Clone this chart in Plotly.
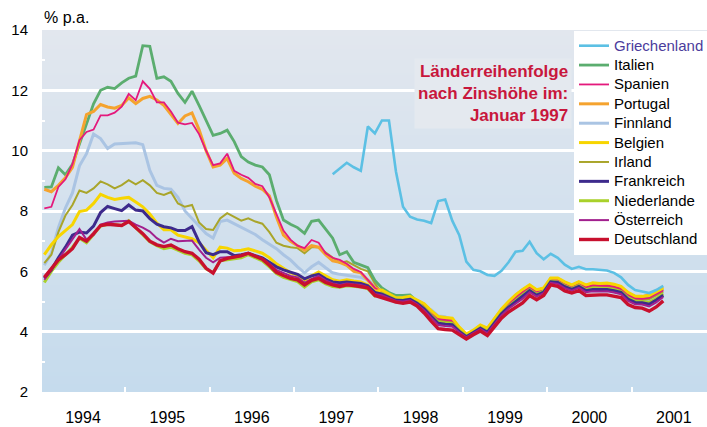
import base64, struct, zlib
import plotly.graph_objects as go

# ---- data: monthly yields (% p.a.), Jan 1994 .. May 2001 ----
START_YEAR = 1994
N_MONTHS = 89
years = ["1994", "1995", "1996", "1997", "1998", "1999", "2000", "2001"]

griechenland = [9.22, 9.40, 9.60, 9.45, 9.33, 10.80, 10.57, 11.00, 11.00, 9.30, 8.14, 7.81, 7.72, 7.68, 7.60,
                8.33, 8.38, 7.68, 7.20, 6.32, 6.05, 6.00, 5.88, 5.85, 6.02, 6.30, 6.65, 6.68, 6.98, 6.60,
                6.40, 6.58, 6.45, 6.22, 6.08, 6.15, 6.07, 6.07, 6.06, 6.03, 5.95, 5.80, 5.55, 5.38, 5.33,
                5.28, 5.38, 5.52]
griechenland_start = 41  # June 1997

italien = [8.78, 8.80, 9.43, 9.20, 9.55, 10.20, 10.90, 11.55, 12.00, 12.10, 12.06, 12.25, 12.40, 12.47, 13.48,
           13.46, 12.40, 12.45, 12.30, 11.90, 11.60, 11.97, 11.50, 11.00, 10.51, 10.57, 10.68, 10.30, 9.80, 9.62,
           9.52, 9.46, 9.20, 8.35, 7.70, 7.56, 7.45, 7.26, 7.66, 7.70, 7.40, 7.10, 6.55, 6.65, 6.30, 6.20, 6.12,
           5.70, 5.45, 5.30, 5.20, 5.20, 5.22, 5.01, 4.89, 4.66, 4.46, 4.43, 4.41, 4.11, 3.88, 4.01, 4.18, 4.08,
           4.41, 4.71, 4.96, 5.18, 5.36, 5.51, 5.35, 5.41, 5.74, 5.74, 5.61, 5.51, 5.62, 5.51, 5.58, 5.56, 5.57,
           5.53, 5.46, 5.26, 5.14, 5.13, 5.16, 5.28, 5.41]
spanien = [8.09, 8.14, 8.80, 9.05, 9.55, 10.35, 10.62, 10.70, 11.17, 11.17, 11.26, 11.46, 11.88, 11.67, 12.30,
           12.05, 11.60, 11.60, 11.30, 10.93, 10.87, 10.92, 10.55, 10.00, 9.52, 9.58, 9.90, 9.33, 9.20, 9.10,
           8.90, 8.82, 8.45, 7.90, 7.35, 7.05, 6.85, 6.77, 7.04, 6.95, 6.60, 6.45, 6.38, 6.25, 6.08, 5.98, 5.70,
           5.45, 5.30, 5.17, 5.04, 5.05, 5.09, 4.97, 4.85, 4.62, 4.42, 4.39, 4.37, 4.07, 3.84, 3.97, 4.14, 4.04,
           4.37, 4.67, 4.92, 5.14, 5.32, 5.47, 5.31, 5.37, 5.70, 5.70, 5.57, 5.47, 5.58, 5.47, 5.54, 5.52, 5.53,
           5.49, 5.42, 5.22, 5.10, 5.09, 5.12, 5.24, 5.37]
portugal = [8.72, 8.64, 8.85, 9.10, 9.45, 10.35, 11.20, 11.30, 11.53, 11.45, 11.41, 11.50, 11.75, 11.56, 11.73,
            11.80, 11.68, 11.50, 11.20, 10.90, 11.15, 11.25, 10.70, 10.00, 9.46, 9.52, 9.74, 9.25, 9.08, 8.97,
            8.82, 8.72, 8.50, 7.80, 7.20, 7.00, 6.85, 6.70, 6.85, 6.80, 6.55, 6.35, 6.30, 6.20, 6.00, 5.95, 5.70,
            5.45, 5.36, 5.23, 5.10, 5.11, 5.15, 5.03, 4.91, 4.68, 4.48, 4.45, 4.43, 4.13, 3.90, 4.03, 4.20, 4.10,
            4.43, 4.73, 4.98, 5.20, 5.38, 5.53, 5.37, 5.43, 5.76, 5.76, 5.63, 5.53, 5.64, 5.53, 5.60, 5.58, 5.59,
            5.55, 5.48, 5.28, 5.16, 5.15, 5.23, 5.35, 5.48]
finnland = [6.20, 6.60, 7.45, 8.10, 8.60, 9.50, 9.90, 10.55, 10.40, 10.07, 10.22, 10.24, 10.25, 10.26, 10.20,
            9.35, 8.85, 8.75, 8.72, 8.45, 8.00, 7.75, 7.50, 7.25, 7.10, 7.65, 7.70, 7.58, 7.45, 7.35,
            7.22, 7.05, 6.90, 6.75, 6.55, 6.38, 6.15, 5.95, 6.15, 6.30, 6.12, 5.95, 5.90, 5.87, 5.84, 5.80, 5.72,
            5.55, 5.23, 5.10, 4.97, 4.98, 5.02, 4.90, 4.78, 4.72, 4.52, 4.50, 4.30, 4.00, 3.77, 3.90, 4.07, 3.97,
            4.30, 4.60, 4.85, 5.07, 5.25, 5.40, 5.24, 5.30, 5.63, 5.63, 5.50, 5.40, 5.51, 5.40, 5.47, 5.45, 5.46,
            5.42, 5.35, 5.15, 5.03, 5.02, 5.05, 5.17, 5.30]
belgien = [6.55, 6.88, 7.15, 7.35, 7.55, 7.98, 8.03, 8.25, 8.55, 8.45, 8.38, 8.42, 8.45, 8.30, 8.14,
           7.90, 7.60, 7.38, 7.38, 7.20, 7.15, 7.08, 6.95, 6.70, 6.45, 6.80, 6.77, 6.68, 6.70, 6.75,
           6.68, 6.60, 6.45, 6.25, 6.10, 5.95, 5.88, 5.70, 5.85, 5.98, 5.85, 5.72, 5.67, 5.72, 5.68, 5.65, 5.55,
           5.33, 5.38, 5.25, 5.12, 5.13, 5.17, 5.05, 4.93, 4.70, 4.50, 4.47, 4.45, 4.15, 3.92, 4.05, 4.22, 4.12,
           4.45, 4.75, 5.00, 5.22, 5.40, 5.55, 5.39, 5.45, 5.78, 5.78, 5.65, 5.55, 5.66, 5.55, 5.62, 5.60, 5.61,
           5.57, 5.50, 5.30, 5.18, 5.17, 5.20, 5.32, 5.45]
irland = [6.27, 6.55, 7.30, 7.85, 8.20, 8.68, 8.60, 8.75, 8.98, 8.88, 8.75, 8.86, 9.02, 8.88, 9.02,
          8.85, 8.60, 8.53, 8.63, 8.25, 8.14, 8.20, 7.62, 7.40, 7.37, 7.75, 7.93, 7.80, 7.68, 7.76,
          7.65, 7.58, 7.30, 6.95, 6.85, 6.80, 6.77, 6.60, 6.80, 6.80, 6.62, 6.45, 6.28, 6.33, 6.20, 6.08, 6.00,
          5.60, 5.26, 5.13, 5.00, 5.01, 5.05, 4.93, 4.81, 4.58, 4.38, 4.35, 4.33, 4.03, 3.80, 3.93, 4.10, 4.00,
          4.33, 4.63, 4.88, 5.10, 5.28, 5.43, 5.27, 5.33, 5.66, 5.66, 5.53, 5.43, 5.54, 5.43, 5.50, 5.48, 5.49,
          5.45, 5.38, 5.18, 5.06, 5.05, 5.08, 5.20, 5.33]
frankreich = [5.77, 6.05, 6.45, 6.80, 7.20, 7.30, 7.27, 7.50, 7.95, 8.15, 8.08, 8.01, 8.20, 8.03, 8.00,
              7.75, 7.56, 7.48, 7.44, 7.35, 7.35, 7.48, 6.98, 6.62, 6.55, 6.65, 6.65, 6.52, 6.55, 6.60,
              6.52, 6.45, 6.30, 6.15, 6.05, 5.98, 5.90, 5.75, 5.85, 5.90, 5.75, 5.65, 5.62, 5.65, 5.62, 5.60, 5.52,
              5.30, 5.24, 5.14, 5.04, 5.03, 5.07, 4.94, 4.76, 4.51, 4.28, 4.25, 4.23, 4.01, 3.83, 3.97, 4.11, 3.98,
              4.29, 4.59, 4.81, 4.99, 5.15, 5.36, 5.21, 5.31, 5.65, 5.63, 5.49, 5.40, 5.50, 5.36, 5.40, 5.39, 5.40,
              5.36, 5.30, 5.08, 4.97, 4.96, 4.91, 5.05, 5.21]
niederlande = [5.63, 6.00, 6.30, 6.55, 6.80, 7.10, 6.95, 7.22, 7.50, 7.55, 7.55, 7.52, 7.68, 7.45, 7.22,
               6.98, 6.85, 6.75, 6.80, 6.70, 6.60, 6.55, 6.35, 6.08, 5.95, 6.35, 6.38, 6.42, 6.45, 6.55,
               6.45, 6.35, 6.15, 5.93, 5.80, 5.72, 5.66, 5.48, 5.65, 5.72, 5.58, 5.50, 5.47, 5.52, 5.50, 5.48, 5.42,
               5.18, 5.27, 5.16, 5.06, 5.04, 5.08, 4.96, 4.79, 4.54, 4.32, 4.29, 4.27, 4.04, 3.85, 3.98, 4.13, 4.01,
               4.32, 4.62, 4.84, 5.03, 5.20, 5.39, 5.24, 5.34, 5.68, 5.65, 5.52, 5.43, 5.53, 5.39, 5.44, 5.43, 5.43,
               5.39, 5.33, 5.12, 5.01, 4.99, 4.97, 5.10, 5.26]
oesterreich = [5.72, 6.05, 6.40, 6.70, 7.05, 7.40, 7.05, 7.20, 7.55, 7.62, 7.65, 7.66, 7.68, 7.55, 7.45,
               7.32, 7.10, 6.95, 7.08, 7.00, 7.00, 7.02, 6.72, 6.45, 6.30, 6.45, 6.47, 6.48, 6.50, 6.60,
               6.50, 6.42, 6.25, 6.05, 5.95, 5.85, 5.80, 5.62, 5.75, 5.85, 5.70, 5.60, 5.55, 5.60, 5.57, 5.55, 5.48,
               5.25, 5.21, 5.11, 5.02, 5.00, 5.04, 4.91, 4.71, 4.46, 4.22, 4.19, 4.17, 3.98, 3.81, 3.95, 4.08, 3.95,
               4.24, 4.54, 4.76, 4.93, 5.09, 5.31, 5.16, 5.28, 5.62, 5.58, 5.44, 5.36, 5.45, 5.31, 5.34, 5.33, 5.34,
               5.30, 5.24, 5.02, 4.91, 4.90, 4.84, 4.97, 5.15]
deutschland = [5.80, 6.10, 6.38, 6.55, 6.75, 7.12, 7.00, 7.25, 7.52, 7.56, 7.53, 7.52, 7.65, 7.45, 7.25,
               7.00, 6.88, 6.82, 6.87, 6.75, 6.65, 6.60, 6.40, 6.10, 5.94, 6.35, 6.43, 6.47, 6.52, 6.60,
               6.50, 6.40, 6.20, 5.97, 5.86, 5.77, 5.72, 5.55, 5.70, 5.77, 5.63, 5.55, 5.50, 5.55, 5.53, 5.50, 5.45,
               5.20, 5.13, 5.05, 4.98, 4.94, 4.98, 4.85, 4.62, 4.35, 4.10, 4.07, 4.05, 3.90, 3.76, 3.90, 4.02, 3.87,
               4.15, 4.45, 4.65, 4.80, 4.95, 5.20, 5.06, 5.20, 5.55, 5.50, 5.35, 5.28, 5.36, 5.20, 5.22, 5.22, 5.22,
               5.18, 5.13, 4.90, 4.80, 4.78, 4.68, 4.82, 5.02]

legend_order = ["Griechenland", "Italien", "Spanien", "Portugal", "Finnland", "Belgien",
                "Irland", "Frankreich", "Niederlande", "Österreich", "Deutschland"]

# ---- styling ----
FONT = "Liberation Sans, Arial, Helvetica, sans-serif"
styles = {
    "Griechenland": ("#5cc0e4", 2.6),
    "Italien": ("#5bad6f", 2.8),
    "Spanien": ("#e4197c", 1.8),
    "Portugal": ("#f5a32e", 3.0),
    "Finnland": ("#aac4e3", 3.0),
    "Belgien": ("#f7d500", 3.0),
    "Irland": ("#a9a52a", 2.0),
    "Frankreich": ("#3d2a8c", 3.0),
    "Niederlande": ("#a9d12b", 3.0),
    "Österreich": ("#a2208e", 2.0),
    "Deutschland": ("#c8102e", 3.4),
}
series = {
    "Griechenland": griechenland, "Italien": italien, "Spanien": spanien, "Portugal": portugal,
    "Finnland": finnland, "Belgien": belgien, "Irland": irland, "Frankreich": frankreich,
    "Niederlande": niederlande, "Österreich": oesterreich, "Deutschland": deutschland,
}
draw_order = ["Finnland", "Irland", "Italien", "Portugal", "Spanien", "Belgien",
              "Niederlande", "Frankreich", "Österreich", "Deutschland", "Griechenland"]

months_x = [START_YEAR + (i + 0.5) / 12 for i in range(N_MONTHS)]

fig = go.Figure()
for name in draw_order:
    col, w = styles[name]
    vals = series[name]
    xs = months_x[griechenland_start:] if name == "Griechenland" else months_x
    tcol = "#4b3c9c" if name == "Griechenland" else "#000000"
    label = f"<span style='font-size:15px;color:{tcol}'>{name}</span>"
    fig.add_trace(go.Scatter(
        x=xs, y=vals, mode="lines", name=label,
        line=dict(color=col, width=w),
        legendrank=legend_order.index(name) + 1,
        hoverinfo="skip",
    ))

# ---- gradient background image (generated PNG) ----
def gradient_png(top, bottom, h=256):
    raw = b""
    for r in range(h):
        t = r / (h - 1)
        c = bytes(int(round(top[k] + (bottom[k] - top[k]) * t)) for k in range(3))
        raw += b"\x00" + c
    def chunk(typ, data):
        return struct.pack(">I", len(data)) + typ + data + struct.pack(">I", zlib.crc32(typ + data) & 0xffffffff)
    png = b"\x89PNG\r\n\x1a\n" + chunk(b"IHDR", struct.pack(">IIBBBBB", 1, h, 8, 2, 0, 0, 0))
    png += chunk(b"IDAT", zlib.compress(raw)) + chunk(b"IEND", b"")
    return "data:image/png;base64," + base64.b64encode(png).decode()

bg = gradient_png((226, 231, 238), (197, 219, 237))

x0 = START_YEAR + 1.2 / 84.4
x1 = x0 + 665 / 84.4

fig.update_layout(
    width=707, height=427,
    margin=dict(l=42, r=0, t=30, b=35, autoexpand=False),
    paper_bgcolor="white", plot_bgcolor="#d5e0ea",
    font=dict(family=FONT, size=15, color="black"),
    showlegend=True,
    legend=dict(x=(574 - 42) / 665, xanchor="left", y=(392 - 31) / 362, yanchor="top",
                bgcolor="white", borderwidth=0, itemwidth=30,
                font=dict(family=FONT, size=12.6, color="black"),
                tracegroupgap=0),
    images=[dict(source=bg, xref="paper", yref="paper", x=0, y=1, sizex=1, sizey=1,
                 sizing="stretch", layer="below", xanchor="left", yanchor="top")],
    xaxis=dict(range=[x0, x1], showgrid=False, zeroline=False, showline=False, automargin=False,
               tickvals=[int(y) + 0.5 for y in years], ticktext=years, ticks="",
               tickfont=dict(size=16), ticklabelstandoff=14,
               minor=dict(tickvals=[int(y) for y in years], ticks="inside", ticklen=5,
                          tickcolor="white", tickwidth=2, showgrid=False)),
    yaxis=dict(range=[2, 14], dtick=2, showgrid=True, gridcolor="white", gridwidth=2.5, automargin=False,
               zeroline=False, showline=False, ticks="", tickfont=dict(size=15),
               ticklabelstandoff=13,
               minor=dict(dtick=1, ticks="inside", ticklen=3, tickcolor="white", tickwidth=2,
                          showgrid=False)),
    annotations=[
        dict(text="% p.a.", xref="paper", yref="paper", x=0, y=1.0, yshift=13,
             xanchor="left", yanchor="middle", showarrow=False, font=dict(size=16)),
        dict(text="Länderreihenfolge<br>nach Zinshöhe im:<br>Januar 1997", xref="paper", yref="paper",
             x=(572 - 42) / 665, y=(392 - 58) / 362, xanchor="right", yanchor="top", align="right",
             showarrow=False, bgcolor="#e4e9ef", borderpad=3,
             font=dict(family=FONT, size=17, color="#c8173c", weight="bold")),
    ],
)

fig.write_html("out.html", config={"displayModeBar": False},
               post_script="document.body.style.margin='0';document.body.style.overflow='hidden';")
